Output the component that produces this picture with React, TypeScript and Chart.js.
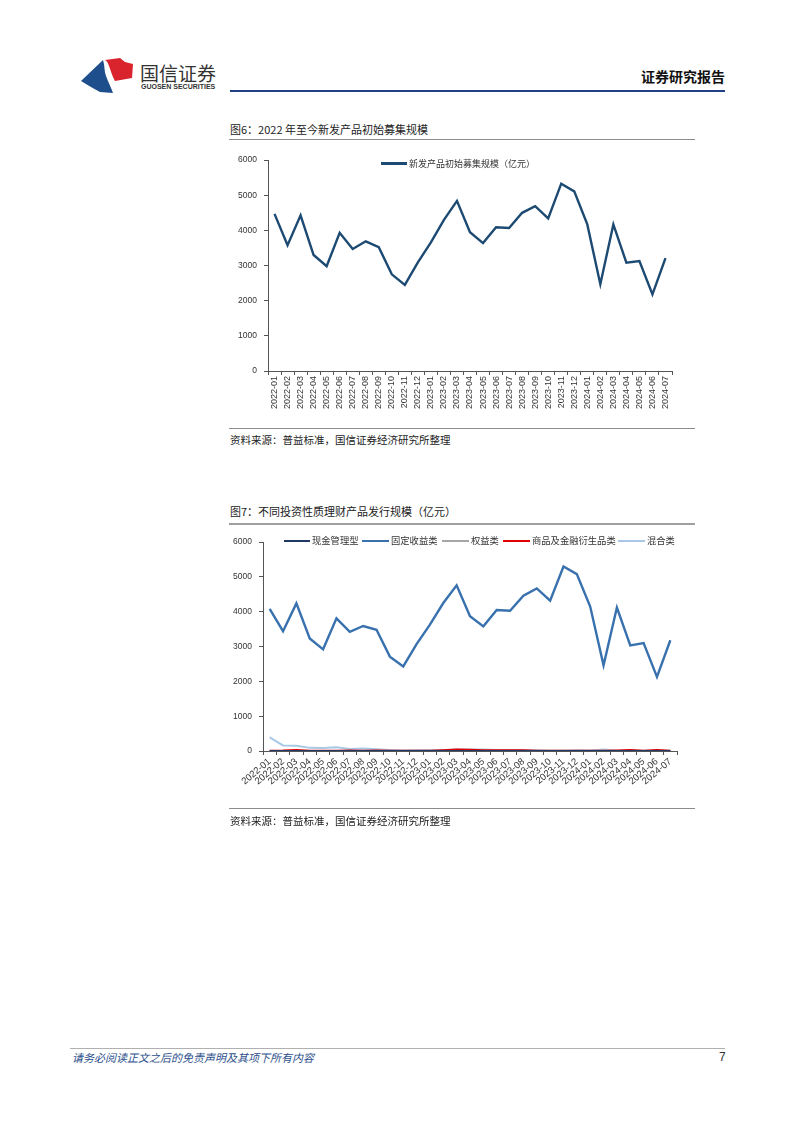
import React, { useEffect, useRef } from "react";
import { Chart, registerables } from "chart.js";

Chart.register(...registerables);

// ---------- data ----------
const months = [
  "2022-01", "2022-02", "2022-03", "2022-04", "2022-05", "2022-06", "2022-07", "2022-08",
  "2022-09", "2022-10", "2022-11", "2022-12", "2023-01", "2023-02", "2023-03", "2023-04",
  "2023-05", "2023-06", "2023-07", "2023-08", "2023-09", "2023-10", "2023-11", "2023-12",
  "2024-01", "2024-02", "2024-03", "2024-04", "2024-05", "2024-06", "2024-07",
];

// 图6 新发产品初始募集规模（亿元）
const newIssueScale = [
  4470, 3580, 4430, 3300, 2980, 3930, 3470, 3690, 3520, 2750, 2450, 3090,
  3660, 4300, 4840, 3950, 3640, 4090, 4070, 4500, 4690, 4340, 5330, 5110,
  4170, 2470, 4170, 3080, 3130, 2180, 3210,
];

// 图7 不同投资性质理财产品发行规模（亿元）
const cashMgmt = [
  0, 0, 0, 0, 0, 0, 0, 0, 0, 0, 0, 0, 0, 0, 0, 0,
  0, 0, 0, 0, 0, 0, 0, 0, 0, 0, 0, 0, 0, 0, 0,
];
const fixedIncome = [
  4080, 3440, 4240, 3230, 2920, 3810, 3420, 3590, 3480, 2710, 2430, 3070,
  3630, 4250, 4760, 3870, 3580, 4050, 4030, 4460, 4670, 4320, 5300, 5080,
  4150, 2460, 4120, 3030, 3100, 2130, 3180,
];
const equity = [
  5, 5, 5, 5, 5, 5, 5, 5, 5, 5, 5, 5, 5, 5, 5, 5,
  5, 5, 5, 5, 5, 5, 5, 5, 5, 5, 5, 5, 5, 5, 5,
];
const commodity = [
  10, 15, 30, 10, 5, 10, 15, 10, 15, 10, 5, 5, 10, 25, 40, 35,
  20, 20, 25, 20, 10, 5, 5, 5, 5, 5, 15, 30, 5, 30, 10,
];
const mixed = [
  390, 160, 150, 90, 85, 110, 60, 70, 50, 30, 15, 20, 20, 30, 40, 40,
  40, 30, 30, 25, 20, 10, 10, 20, 15, 40, 10, 10, 10, 10, 10,
];

const yTicks = [0, 1000, 2000, 3000, 4000, 5000, 6000];

// ---------- styles ----------
const CJK = "'Noto Sans CJK SC', 'Noto Sans', sans-serif";
const LATIN = "'Liberation Sans', Arial, sans-serif";
const AXIS = "#555555";
const TICK = "#333333";

function makeOptions(p: {
  yWidth: number;
  xHeight: number;
  padRight: number;
  padTop: number;
  rotation: number;
  xFont: number;
}) {
  return {
    animation: false as const,
    responsive: false,
    maintainAspectRatio: false,
    devicePixelRatio: 1,
    layout: { padding: { left: 0, right: p.padRight, top: p.padTop, bottom: 0 } },
    plugins: { legend: { display: false }, tooltip: { enabled: false } },
    elements: { point: { radius: 0 }, line: { tension: 0 } },
    scales: {
      x: {
        type: "category" as const,
        offset: true,
        grid: {
          display: true,
          drawOnChartArea: false,
          offset: true,
          tickLength: 4,
          color: AXIS,
        },
        border: { display: true, color: AXIS, width: 1 },
        ticks: {
          autoSkip: false,
          minRotation: p.rotation,
          maxRotation: p.rotation,
          padding: 1,
          color: TICK,
          font: { family: LATIN, size: p.xFont },
        },
        afterFit: (s: any) => {
          s.height = p.xHeight;
        },
      },
      y: {
        min: 0,
        max: 6000,
        afterBuildTicks: (s: any) => {
          s.ticks = yTicks.map((v) => ({ value: v }));
        },
        grid: { display: true, drawOnChartArea: false, tickLength: 4, color: AXIS },
        border: { display: true, color: AXIS, width: 1 },
        ticks: {
          padding: 7,
          color: TICK,
          font: { family: LATIN, size: 8.5 },
          callback: (v: any) => String(v),
        },
        afterFit: (s: any) => {
          s.width = p.yWidth;
        },
      },
    },
  };
}

function ChartCanvas({ config, left, top, width, height }: any) {
  const ref = useRef<HTMLCanvasElement | null>(null);
  useEffect(() => {
    if (!ref.current) return;
    const chart = new Chart(ref.current, config);
    return () => chart.destroy();
  }, []);
  return (
    <canvas
      ref={ref}
      width={width}
      height={height}
      style={{ position: "absolute", left, top, width, height }}
    />
  );
}

function Text({ x, y, size, children, style }: any) {
  return (
    <div
      style={{
        position: "absolute",
        left: x,
        top: y - size / 2,
        fontSize: size,
        lineHeight: 1,
        whiteSpace: "nowrap",
        fontFamily: CJK,
        color: "#222",
        ...style,
      }}
    >
      {children}
    </div>
  );
}

function HLine({ x1, x2, y, w, color }: any) {
  return (
    <div
      style={{
        position: "absolute",
        left: x1,
        top: y - w / 2,
        width: x2 - x1,
        height: w,
        background: color,
      }}
    />
  );
}

function LegendItem({ x, y, sw, color, label, size, lw }: any) {
  return (
    <>
      <div
        style={{
          position: "absolute",
          left: x,
          top: y - lw / 2,
          width: sw,
          height: lw,
          background: color,
        }}
      />
      <Text x={x + sw + 2} y={y} size={size} style={{ color: "#333" }}>
        {label}
      </Text>
    </>
  );
}

export default function App() {
  const chart1 = {
    type: "line" as const,
    data: {
      labels: months,
      datasets: [
        {
          label: "新发产品初始募集规模（亿元）",
          data: newIssueScale,
          borderColor: "#1c4a72",
          borderWidth: 2.4,
          fill: false,
        },
      ],
    },
    options: makeOptions({ yWidth: 43, xHeight: 47, padRight: 23, padTop: 10, rotation: 90, xFont: 9 }),
  };

  const chart2 = {
    type: "line" as const,
    data: {
      labels: months,
      datasets: [
        { label: "现金管理型", data: cashMgmt, borderColor: "#1f3864", borderWidth: 2, fill: false },
        { label: "商品及金融衍生品类", data: commodity, borderColor: "#e00000", borderWidth: 2, fill: false },
        { label: "权益类", data: equity, borderColor: "#a6a6a6", borderWidth: 1.5, fill: false },
        { label: "混合类", data: mixed, borderColor: "#a9c8e6", borderWidth: 2, fill: false },
        { label: "固定收益类", data: fixedIncome, borderColor: "#3871ad", borderWidth: 2.4, fill: false },
      ],
    },
    options: makeOptions({ yWidth: 38, xHeight: 64, padRight: 18, padTop: 10, rotation: 40, xFont: 9.5 }),
  };

  return (
    <div
      style={{
        position: "absolute",
        left: 0,
        top: 0,
        width: 802,
        height: 1133,
        background: "#fff",
        overflow: "hidden",
      }}
    >
      {/* header logo */}
      <svg
        style={{ position: "absolute", left: 78, top: 55 }}
        width={60}
        height={42}
        viewBox="0 0 60 42"
      >
        <path
          d="M3 26 L25 5 C27 11 26 16 28 21 C30 27 33 32 35 38 L22 37 C15 33 9 30 3 26 Z"
          fill="#1f4e8c"
        />
        <path
          d="M27 5 L42 3 L47 7 L55 9 L54 23 L37 26 C34 21 33 16 31 11 C30 8 29 6 27 5 Z"
          fill="#d9232d"
        />
      </svg>
      <Text x={140} y={72} size={19} style={{ color: "#333", letterSpacing: 0 }}>
        国信证券
      </Text>
      <Text
        x={141}
        y={86.5}
        size={7}
        style={{ fontFamily: LATIN, fontWeight: "bold", color: "#333" }}
      >
        GUOSEN SECURITIES
      </Text>
      <Text x={641} y={76} size={14} style={{ fontWeight: "bold", color: "#111" }}>
        证券研究报告
      </Text>
      <HLine x1={230} x2={725} y={91} w={2} color="#1f3f86" />

      {/* figure 6 */}
      <Text x={230} y={129} size={11}>
        图6：2022 年至今新发产品初始募集规模
      </Text>
      <HLine x1={229} x2={695} y={139.5} w={1} color="#8c8c8c" />
      <ChartCanvas config={chart1} left={225} top={148} width={470} height={270} />
      <LegendItem
        x={381}
        y={163.5}
        sw={26}
        lw={2.5}
        color="#1c4a72"
        label="新发产品初始募集规模（亿元）"
        size={9}
      />
      <HLine x1={229} x2={695} y={428.5} w={1} color="#8c8c8c" />
      <Text x={230} y={440} size={10.5}>
        资料来源：普益标准，国信证券经济研究所整理
      </Text>

      {/* figure 7 */}
      <Text x={230} y={511} size={11}>
        图7：不同投资性质理财产品发行规模（亿元）
      </Text>
      <HLine x1={229} x2={695} y={523.5} w={2} color="#a0a0a0" />
      <ChartCanvas config={chart2} left={225} top={530} width={470} height={285} />
      <LegendItem x={284} y={541} sw={26} lw={2.5} color="#1f3864" label="现金管理型" size={9.3} />
      <LegendItem x={362} y={541} sw={27} lw={2.5} color="#3871ad" label="固定收益类" size={9.3} />
      <LegendItem x={442} y={541} sw={27} lw={1.5} color="#a6a6a6" label="权益类" size={9.3} />
      <LegendItem x={503} y={541} sw={27} lw={2.5} color="#e00000" label="商品及金融衍生品类" size={9.3} />
      <LegendItem x={618} y={541} sw={27} lw={2.5} color="#a9c8e6" label="混合类" size={9.3} />
      <HLine x1={229} x2={695} y={808.5} w={1} color="#8c8c8c" />
      <Text x={230} y={821} size={10.5}>
        资料来源：普益标准，国信证券经济研究所整理
      </Text>

      {/* footer */}
      <HLine x1={70} x2={725} y={1048} w={1} color="#b0b0b0" />
      <Text x={72} y={1057} size={11} style={{ fontStyle: "italic", color: "#2c4f8c" }}>
        请务必阅读正文之后的免责声明及其项下所有内容
      </Text>
      <Text x={719} y={1057} size={12} style={{ fontFamily: LATIN, color: "#333" }}>
        7
      </Text>
    </div>
  );
}
